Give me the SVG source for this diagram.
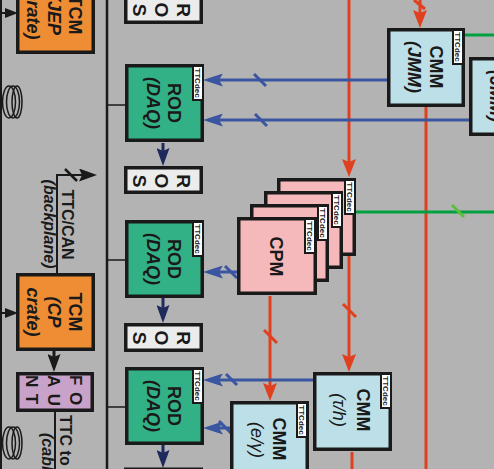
<svg xmlns="http://www.w3.org/2000/svg" width="494" height="469" viewBox="0 0 494 469">
<style>
.t{font-family:"Liberation Sans",Arial,sans-serif;font-weight:bold;fill:#1a1a1a;font-size:18px}
.i{font-style:italic}
.g{font-weight:normal}
.s16{font-size:16px}
.s19{font-size:19px}
.s17{font-size:17px}
.lab{font-family:"Liberation Sans",Arial,sans-serif;font-weight:bold;fill:#1a1a1a;font-size:8px}
.box{stroke:#1a1a1a;stroke-width:3.5}
.tcm{fill:#ee8d33}
.rod{fill:#33b186}
.ros{fill:#ececec}
.cpm{fill:#f6b9bb}
.cmm{fill:#bde0e8}
.fan{fill:#c8a2c8}
.lb{fill:#ffffff;stroke:#1a1a1a;stroke-width:2}
.red{stroke:#e0401e;stroke-width:3;fill:none}
.blue{stroke:#3a56a0;stroke-width:3;fill:none}
.navy{stroke:#1f2a5c;stroke-width:3;fill:none}
.blk{stroke:#1a1a1a;stroke-width:2;fill:none}
.thin{stroke:#1a1a1a;stroke-width:1.5;fill:none}
.grn{stroke:#00a040;stroke-width:3;fill:none}
.ring{stroke:#1a1a1a;stroke-width:1.5;fill:none}
</style>
<defs>
<marker id="ab" viewBox="0 0 20 13" refX="10" refY="6.5" markerWidth="20" markerHeight="13" orient="auto" markerUnits="userSpaceOnUse"><path d="M0,0 L20,6.5 L0,13 L4,6.5 Z" fill="#3a56a0"/></marker>
<marker id="ar" viewBox="0 0 18 14" refX="8" refY="7" markerWidth="18" markerHeight="14" orient="auto" markerUnits="userSpaceOnUse"><path d="M0,0 L18,7 L0,14 L3,7 Z" fill="#e0401e"/></marker>
<marker id="an" viewBox="0 0 18 13" refX="8" refY="6.5" markerWidth="18" markerHeight="13" orient="auto" markerUnits="userSpaceOnUse"><path d="M0,0 L18,6.5 L0,13 L3,6.5 Z" fill="#1f2a5c"/></marker>
<marker id="ak" viewBox="0 0 18 13" refX="8" refY="6.5" markerWidth="18" markerHeight="13" orient="auto" markerUnits="userSpaceOnUse"><path d="M0,0 L18,6.5 L0,13 L3,6.5 Z" fill="#1a1a1a"/></marker>
<marker id="aks" viewBox="0 0 13 10" refX="6" refY="5" markerWidth="13" markerHeight="10" orient="auto" markerUnits="userSpaceOnUse"><path d="M0,0 L13,5 L0,10 Z" fill="#1a1a1a"/></marker>
</defs>
<rect x="0" y="0" width="494" height="469" fill="#b3b3b3"/>

<g id="connectors">
  <line class="blk" x1="1" y1="0" x2="1" y2="469"/>
  <line class="blk" x1="107" y1="0" x2="107" y2="469" style="stroke-width:2.5"/>
  <line class="blk" x1="1" y1="13" x2="11" y2="13" marker-end="url(#aks)"/>
  <line class="blk" x1="1" y1="313" x2="11" y2="313" marker-end="url(#aks)"/>
  <line class="thin" x1="107" y1="105" x2="125" y2="105"/>
  <line class="thin" x1="107" y1="260" x2="125" y2="260"/>
  <line class="thin" x1="107" y1="407" x2="125" y2="407"/>
  <line class="navy" x1="163" y1="143" x2="163" y2="156" marker-end="url(#an)"/>
  <line class="navy" x1="163" y1="298" x2="163" y2="313" marker-end="url(#an)"/>
  <line class="navy" x1="163" y1="445" x2="163" y2="458" marker-end="url(#an)"/>
  <line class="blk" x1="54" y1="351" x2="54" y2="362" style="stroke-width:3" marker-end="url(#ak)"/>
  <path class="blk" d="M57,273 V175 H87" marker-end="url(#ak)"/>
  <line class="blk" x1="65" y1="169" x2="77" y2="181" style="stroke-width:2.5"/>
  <line class="blk" x1="55" y1="411" x2="55" y2="469"/>
  <line class="red" x1="420" y1="0" x2="420" y2="18" marker-end="url(#ar)"/>
  <line class="red" x1="414" y1="0" x2="425" y2="9"/>
  <line class="red" x1="349" y1="0" x2="349" y2="167" marker-end="url(#ar)"/>
  <line class="red" x1="349" y1="256" x2="349" y2="362" marker-end="url(#ar)"/>
  <line class="red" x1="343" y1="304" x2="356" y2="317"/>
  <line class="red" x1="270" y1="296" x2="270" y2="391" marker-end="url(#ar)"/>
  <line class="red" x1="264" y1="330" x2="277" y2="343"/>
  <line class="red" x1="426" y1="107" x2="426" y2="469"/>
  <line class="red" x1="352" y1="452" x2="352" y2="469"/>
  <line class="blue" x1="387" y1="80" x2="213" y2="80" marker-end="url(#ab)"/>
  <line class="blue" x1="254" y1="74" x2="266" y2="86"/>
  <line class="blue" x1="469" y1="120" x2="213" y2="120" marker-end="url(#ab)"/>
  <line class="blue" x1="255" y1="114" x2="267" y2="126"/>
  <line class="blue" x1="237" y1="272" x2="213" y2="272" marker-end="url(#ab)"/>
  <line class="blue" x1="225" y1="266" x2="237" y2="278"/>
  <line class="blue" x1="313" y1="380" x2="213" y2="380" marker-end="url(#ab)"/>
  <line class="blue" x1="226" y1="374" x2="237" y2="385"/>
  <line class="blue" x1="230" y1="428" x2="213" y2="428" marker-end="url(#ab)"/>
  <line class="blue" x1="219" y1="421" x2="231" y2="433"/>
  <line class="grn" x1="465" y1="35" x2="494" y2="35"/>
  <line class="grn" x1="356" y1="212" x2="494" y2="212"/>
  <line class="grn" x1="452" y1="205" x2="464" y2="217" style="stroke:#5cbf3c"/>
</g>

<g id="rings-top">
  <ellipse class="ring" cx="9" cy="102" rx="6.5" ry="16"/>
  <ellipse class="ring" cx="13" cy="102" rx="6.5" ry="16"/>
  <ellipse class="ring" cx="17" cy="102" rx="5" ry="16"/>
</g>
<g id="rings-bottom">
  <ellipse class="ring" cx="9" cy="443" rx="6.5" ry="16"/>
  <ellipse class="ring" cx="13" cy="443" rx="6.5" ry="16"/>
  <ellipse class="ring" cx="17" cy="443" rx="5" ry="16"/>
</g>

<g id="tcm-jep">
  <rect class="box tcm" x="17.75" y="-22.25" width="75.5" height="74.5"/>
  <text class="t" text-anchor="middle" transform="translate(69,15) rotate(90)">TCM</text>
  <text class="t i" text-anchor="middle" transform="translate(48,15) rotate(90)">(JEP</text>
  <text class="t i" text-anchor="middle" transform="translate(27,15) rotate(90)">crate)</text>
</g>
<g id="tcm-cp">
  <rect class="box tcm" x="17.75" y="274.75" width="75.5" height="74.5"/>
  <text class="t" text-anchor="middle" transform="translate(69,312) rotate(90)">TCM</text>
  <text class="t i" text-anchor="middle" transform="translate(48,312) rotate(90)">(CP</text>
  <text class="t i" text-anchor="middle" transform="translate(27,312) rotate(90)">crate)</text>
</g>
<g id="fanout">
  <rect class="box fan" x="17.75" y="373.75" width="74.5" height="36.5"/>
  <text class="t s17" letter-spacing="6.5" transform="translate(70,375) rotate(90)">FO</text>
  <text class="t s17" letter-spacing="6.5" transform="translate(48,375) rotate(90)">AU</text>
  <text class="t s17" letter-spacing="6.5" transform="translate(26,375) rotate(90)">NT</text>
</g>
<g id="ttc-can-label">
  <text class="t s16" text-anchor="middle" transform="translate(62,224.5) rotate(90)">TTC/CAN</text>
  <text class="t s16 i" text-anchor="middle" transform="translate(44,224) rotate(90)">(backplane)</text>
</g>
<g id="ttc-cable-label">
  <text class="t s16" transform="translate(60,415) rotate(90)">TTC to</text>
  <text class="t s16 i" transform="translate(42,433) rotate(90)">(cable)</text>
</g>

<g id="ros1">
  <rect class="box ros" x="125.75" y="-3.25" width="75.5" height="25.5"/>
  <text class="t s19" text-anchor="middle" transform="translate(177,10) rotate(90)">R</text>
  <text class="t s19" text-anchor="middle" transform="translate(155,10) rotate(90)">O</text>
  <text class="t s19" text-anchor="middle" transform="translate(133,10) rotate(90)">S</text>
</g>
<g id="ros2">
  <rect class="box ros" x="125.75" y="167.75" width="75.5" height="24.5"/>
  <text class="t s19" text-anchor="middle" transform="translate(177,181) rotate(90)">R</text>
  <text class="t s19" text-anchor="middle" transform="translate(155,181) rotate(90)">O</text>
  <text class="t s19" text-anchor="middle" transform="translate(133,181) rotate(90)">S</text>
</g>
<g id="ros3">
  <rect class="box ros" x="125.75" y="324.75" width="75.5" height="25.5"/>
  <text class="t s19" text-anchor="middle" transform="translate(177,338) rotate(90)">R</text>
  <text class="t s19" text-anchor="middle" transform="translate(155,338) rotate(90)">O</text>
  <text class="t s19" text-anchor="middle" transform="translate(133,338) rotate(90)">S</text>
</g>
<g id="ros4">
  <rect class="box ros" x="125.75" y="469.25" width="75.5" height="25.5"/>
</g>

<g id="rod1">
  <rect class="box rod" x="126.75" y="65.75" width="75.5" height="74.5"/>
  <text class="t" text-anchor="middle" transform="translate(168,103) rotate(90)">ROD</text>
  <text class="t i" text-anchor="middle" transform="translate(147,103) rotate(90)">(DAQ)</text>
  <rect class="lb" x="193" y="66" width="10" height="34"/>
  <text class="lab" text-anchor="middle" transform="translate(195,83) rotate(90)">TTCdec</text>
</g>
<g id="rod2">
  <rect class="box rod" x="126.75" y="221.75" width="75.5" height="74.5"/>
  <text class="t" text-anchor="middle" transform="translate(168,259) rotate(90)">ROD</text>
  <text class="t i" text-anchor="middle" transform="translate(147,259) rotate(90)">(DAQ)</text>
  <rect class="lb" x="193" y="222" width="10" height="34"/>
  <text class="lab" text-anchor="middle" transform="translate(195,239) rotate(90)">TTCdec</text>
</g>
<g id="rod3">
  <rect class="box rod" x="126.75" y="368.75" width="75.5" height="74.5"/>
  <text class="t" text-anchor="middle" transform="translate(168,406) rotate(90)">ROD</text>
  <text class="t i" text-anchor="middle" transform="translate(147,406) rotate(90)">(DAQ)</text>
  <rect class="lb" x="193" y="369" width="10" height="34"/>
  <text class="lab" text-anchor="middle" transform="translate(195,386) rotate(90)">TTCdec</text>
</g>

<g id="cpm4">
  <rect class="box cpm" x="278.75" y="179.75" width="75.5" height="74.5"/>
  <rect class="lb" x="345" y="180" width="10" height="34"/>
  <text class="lab" text-anchor="middle" transform="translate(347,197) rotate(90)">TTCdec</text>
</g>
<g id="cpm3">
  <rect class="box cpm" x="265.75" y="192.75" width="75.5" height="74.5"/>
  <rect class="lb" x="332" y="193" width="10" height="34"/>
  <text class="lab" text-anchor="middle" transform="translate(334,210) rotate(90)">TTCdec</text>
</g>
<g id="cpm2">
  <rect class="box cpm" x="251.75" y="205.75" width="75.5" height="74.5"/>
  <rect class="lb" x="318" y="206" width="10" height="34"/>
  <text class="lab" text-anchor="middle" transform="translate(320,223) rotate(90)">TTCdec</text>
</g>
<g id="cpm1">
  <rect class="box cpm" x="238.75" y="218.75" width="76.5" height="74.5"/>
  <text class="t" text-anchor="middle" transform="translate(270,256.5) rotate(90)">CPM</text>
  <rect class="lb" x="305" y="219" width="10" height="34"/>
  <text class="lab" text-anchor="middle" transform="translate(307,236) rotate(90)">TTCdec</text>
</g>

<g id="cmm-jmm1">
  <rect class="box cmm" x="388.75" y="29.75" width="74.5" height="75.5"/>
  <text class="t" text-anchor="middle" transform="translate(430,67) rotate(90)">CMM</text>
  <text class="t i" text-anchor="middle" transform="translate(408,67) rotate(90)">(JMM)</text>
  <rect class="lb" x="453" y="30" width="10" height="34"/>
  <text class="lab" text-anchor="middle" transform="translate(455,47) rotate(90)">TTCdec</text>
</g>
<g id="cmm-jmm2">
  <rect class="box cmm" x="470.75" y="58.75" width="74.5" height="75.5"/>
  <text class="t" text-anchor="middle" transform="translate(512,96) rotate(90)">CMM</text>
  <text class="t i" text-anchor="middle" transform="translate(490,96) rotate(90)">(JMM)</text>
</g>
<g id="cmm-th">
  <rect class="box cmm" x="314.75" y="373.75" width="75.5" height="75.5"/>
  <text class="t" text-anchor="middle" transform="translate(357,410) rotate(90)">CMM</text>
  <text class="t i g" text-anchor="middle" transform="translate(333,410) rotate(90)">(τ/h)</text>
  <rect class="lb" x="381" y="374" width="10" height="34"/>
  <text class="lab" text-anchor="middle" transform="translate(383,391) rotate(90)">TTCdec</text>
</g>
<g id="cmm-eg">
  <rect class="box cmm" x="231.75" y="402.75" width="75.5" height="76.5"/>
  <text class="t" text-anchor="middle" transform="translate(273,439) rotate(90)">CMM</text>
  <text class="t i g" text-anchor="middle" transform="translate(251,440) rotate(90)">(e/γ)</text>
  <rect class="lb" x="297" y="403" width="10" height="34"/>
  <text class="lab" text-anchor="middle" transform="translate(299,420) rotate(90)">TTCdec</text>
</g>
</svg>
